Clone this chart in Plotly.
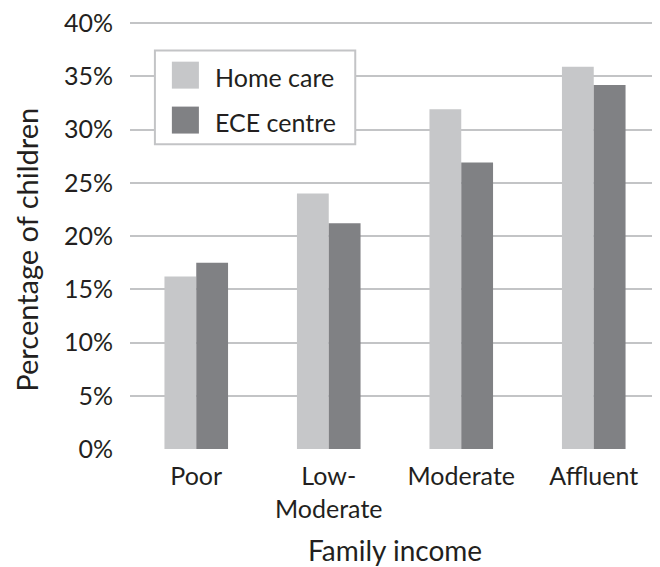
import plotly.graph_objects as go

# Share of children by family income and care type
income = ["Poor", "Low-<br>Moderate", "Moderate", "Affluent"]
series_names = ["Home care", "ECE centre"]
home_care = [16.2, 24.0, 31.9, 35.9]
ece_centre = [17.5, 21.2, 26.9, 34.2]
y_ticks = [0, 5, 10, 15, 20, 25, 30, 35, 40]

FONT = "Lato, 'Open Sans', sans-serif"
GRID = "#c3c4c6"
COLORS = ["#c6c7c9", "#808184"]

fig = go.Figure()
for name, vals, col in zip(series_names, [home_care, ece_centre], COLORS):
    fig.add_bar(x=income, y=vals, name=name,
                marker=dict(color=col, line=dict(width=0)))

# hand-built legend box (big square swatches like the original)
fig.add_shape(type="rect", xref="paper", yref="paper",
              x0=0.047, x1=0.425, y0=0.712, y1=0.931,
              line=dict(color=GRID, width=2), fillcolor="white", layer="above")
for i, (name, col) in enumerate(zip(series_names, COLORS)):
    y_top = 0.905 - i * 0.105
    fig.add_shape(type="rect", xref="paper", yref="paper",
                  x0=0.079, x1=0.130, y0=y_top - 0.063, y1=y_top,
                  line=dict(width=0), fillcolor=col, layer="above")
    fig.add_annotation(xref="paper", yref="paper", x=0.157, y=y_top - 0.036,
                       xanchor="left", yanchor="middle", showarrow=False,
                       text=name, font=dict(size=25))

# y title as an annotation so it can sit close to the left edge
fig.add_annotation(xref="paper", yref="paper", x=-0.195, y=0.465,
                   xanchor="center", yanchor="middle", showarrow=False,
                   textangle=-90, text="Percentage of children",
                   font=dict(size=29))

# the page body has an 8px margin, so the figure is 8px smaller each way
fig.update_layout(
    width=652, height=559,
    margin=dict(l=122, r=0, t=13, b=118),
    paper_bgcolor="white", plot_bgcolor="white",
    font=dict(family=FONT, size=25, color="#231f20"),
    barmode="group", bargap=0.52, bargroupgap=0,
    showlegend=False,
    xaxis=dict(
        showgrid=False, showline=False, ticks="", automargin=False,
        ticklabelstandoff=10,
        tickfont=dict(size=25),
        title=dict(text="Family income", font=dict(size=28), standoff=23),
    ),
    yaxis=dict(
        range=[0, 40.2], tickvals=y_ticks,
        ticktext=[f"{v}%" for v in y_ticks],
        showgrid=True, gridcolor=GRID, gridwidth=2,
        zeroline=False, showline=False, ticks="", automargin=False,
        ticklabelstandoff=16, ticklabeloverflow="allow",
        tickfont=dict(size=25),
    ),
)

fig.write_html("out.html")
